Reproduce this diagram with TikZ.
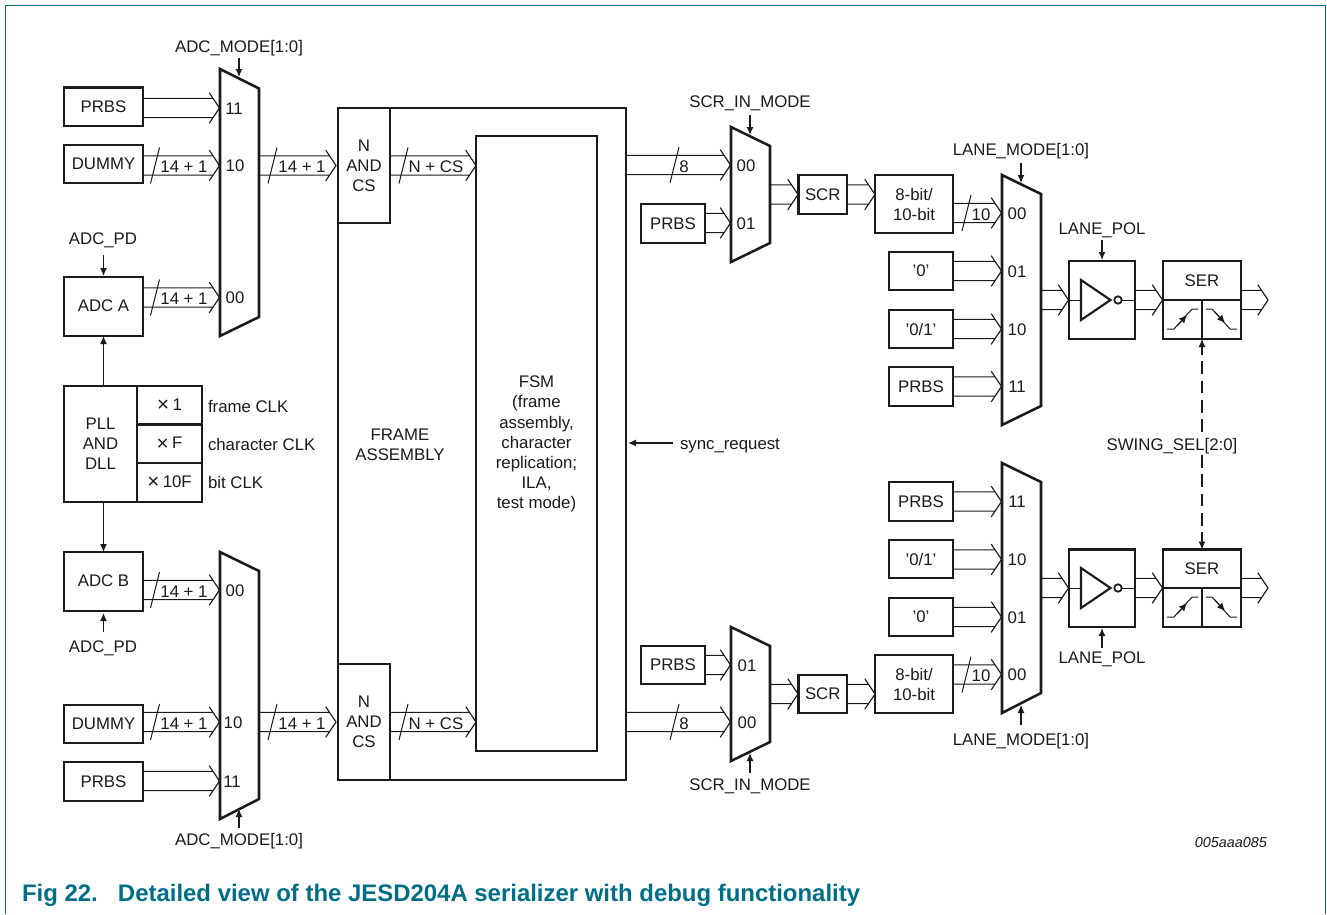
\documentclass[tikz,border=0pt]{standalone}
\usepackage{fontspec}
\setmainfont{Liberation Sans}
\usetikzlibrary{arrows.meta,calc}
\definecolor{teal1}{HTML}{006E87}
\definecolor{ink}{HTML}{1C1A1B}
\newcommand\tms{\raisebox{-.9pt}{\fontsize{15.5}{15}\selectfont ×}\hspace{2.6pt}}
\tikzset{
  boxline/.style={draw=ink,line width=1.9pt,line join=miter},
  blk/.style={boxline,inner sep=0pt,outer sep=0pt,align=center,text=ink,font=\fontsize{12.6}{15}\selectfont},
  lab/.style={inner sep=0pt,outer sep=0pt,text=ink,font=\fontsize{12.6}{15}\selectfont,text height=9pt,text depth=0pt},
  multi/.style={inner sep=0pt,outer sep=0pt,align=center,text=ink,font=\fontsize{12.6}{15.1}\selectfont},
  buswire/.style={draw=ink,line width=.85pt,line join=miter},
  thinline/.style={draw=ink,line width=.75pt},
  sig/.style={draw=ink,line width=.85pt,-{Latex[length=6pt,width=5.2pt]}},
  dashsig/.style={sig,dash pattern=on 9.5pt off 5pt},
  ghost/.style={inner sep=0pt,outer sep=0pt}
}
% box: name, x1, y1, x2, y2, text
\newcommand\blk[6]{\node[blk,minimum width={(#4-#2)*0.75pt},minimum height={(#5-#3)*0.75pt}] (#1) at ({(#2+#4)/2},{(#3+#5)/2}) {#6};}
% mux: name, xl, xr, ytl, ytr, ybr, ybl
\newcommand\muxbox[7]{%
  \node[ghost,minimum width={(#3-#2)*0.75pt},minimum height={(#7-#4)*0.75pt}] (#1) at ({(#2+#3)/2},{(#4+#7)/2}) {};
  \draw[boxline] (#2,#4) -- (#3,#5) -- (#3,#6) -- (#2,#7) -- cycle;}
% port: name, tip x, tip y, label x, label text
\newcommand\port[5]{\coordinate (#1) at (#2,#3); \node[lab] (#1l) at (#4,#3) {#5};}
% bus from a to b: x of a, y and x of b
\newcommand\busw[2]{\draw[buswire] let \p1=(#1),\p2=(#2) in
  (\x1,\y2+7.2pt) -- (\x2-4.7pt,\y2+7.2pt) (\x1,\y2-7.2pt) -- (\x2-4.7pt,\y2-7.2pt)
  (\x2-7.7pt,\y2+11.5pt) -- (\x2,\y2) -- (\x2-7.7pt,\y2-11.5pt);}
% slash and width label: name, slash x, y, label x, text
\newcommand\wlab[5]{\draw[thinline] (#2,#3+18) -- (#2+9,#3-18); \node[lab] (#1) at (#4,#3+1) {#5};}
% control: name, text, tx, ty, x1, y1, x2, y2
\newcommand\ctrl[8]{\node[lab] (#1) at (#3,#4) {#2}; \coordinate (#1s) at (#5,#6); \coordinate (#1e) at (#7,#8); \draw[sig] (#1s) -- (#1e);}
% inverter + serializer: suffix, y top, y mid, y bot
\newcommand\drvstage[4]{%
  \blk{inv#1}{1069}{#2}{1135}{#4}{}
  \blk{ser#1}{1163}{#2}{1241}{#3}{SER}
  \blk{rise#1}{1163}{#3}{1202}{#4}{}
  \blk{fall#1}{1202}{#3}{1241}{#4}{}
  \draw[thinline] (inv#1.west |- 0,#3) -- (1081,#3);
  \draw[thinline] (1122,#3) -- (inv#1.east |- 0,#3);
  \draw[draw=ink,line width=1.6pt,line join=miter] (1081,#3-20) -- (1110.5,#3) -- (1081,#3+20) -- cycle;
  \draw[draw=ink,line width=1.3pt] (1118,#3) circle[radius=2.8pt];
  \draw[thinline] (1167,#3+29) -- (1174,#3+29) -- (1192,#3+9) -- (1198,#3+9);
  \draw[thinline] (1206,#3+9) -- (1212,#3+9) -- (1230,#3+29) -- (1237,#3+29);
  \draw[thinline,-{Latex[length=6pt,width=5.4pt]}] (1177,#3+26) -- (1187,#3+15);
  \draw[thinline,-{Latex[length=6pt,width=5.4pt]}] (1215,#3+12) -- (1225,#3+23);
}
\begin{document}
\begin{tikzpicture}[x=0.75pt,y=-0.75pt]
\useasboundingbox (0,0) rectangle (1327,914);
\draw[draw=teal1,line width=1.1pt] (5.5,914) -- (5.5,5.5) -- (1325.5,5.5) -- (1325.5,914);

% ---------- left inputs, top
\blk{prbsA}{64}{87.5}{143}{126}{PRBS}
\blk{dummyA}{64}{145}{143}{183}{DUMMY}
\blk{adcA}{64}{277}{143}{336}{\raisebox{.75pt}{ADC A}}
\muxbox{mA}{220}{259}{69}{88.5}{317}{336}
\port{mAa}{219.5}{108}{234}{11}
\port{mAb}{219.5}{165.5}{235}{10}
\port{mAc}{219.5}{297.5}{235}{00}
\busw{prbsA.east}{mAa}
\busw{dummyA.east}{mAb}
\busw{adcA.east}{mAc}
\wlab{wA1}{150.5}{165.5}{184}{14 + 1}
\wlab{wA2}{150.5}{297.5}{184}{14 + 1}
\ctrl{ctlA}{ADC\_MODE[1:0]}{239}{46}{239}{58}{239}{77}
\ctrl{pdA}{ADC\_PD}{103}{238}{103.5}{255}{103.5}{276}

% ---------- PLL
\blk{pll}{64}{386}{137}{502}{\raisebox{-.75pt}{\parbox{50pt}{\centering PLL\\AND\\DLL}}}
\blk{cA}{137}{386}{202}{424.5}{\tms 1}
\blk{cB}{137}{424.5}{202}{463}{\tms F}
\blk{cC}{137}{463}{202}{502}{\tms 10F}
\node[lab,anchor=west] (frameclk) at (208,406) {frame CLK};
\node[lab,anchor=west] (charclk) at (208,444) {character CLK};
\node[lab,anchor=west] (bitclk) at (208,482) {bit CLK};

% ---------- left inputs, bottom
\blk{adcB}{64}{552}{143}{611}{\raisebox{.75pt}{ADC B}}
\blk{dummyB}{64}{705}{143}{743}{DUMMY}
\blk{prbsB}{64}{762}{143}{801}{PRBS}
\draw[sig] (adcA |- pll.north) -- (adcA.south);
\draw[sig] (adcB |- pll.south) -- (adcB.north);
\muxbox{mB}{220}{259}{552}{571}{799}{819}
\port{mBa}{219.5}{590}{235}{00}
\port{mBb}{219.5}{722}{233}{10}
\port{mBc}{219.5}{781}{232}{11}
\busw{adcB.east}{mBa}
\busw{dummyB.east}{mBb}
\busw{prbsB.east}{mBc}
\wlab{wB1}{150.5}{590}{184}{14 + 1}
\wlab{wB2}{150.5}{722}{184}{14 + 1}
\ctrl{ctlB}{ADC\_MODE[1:0]}{239}{839}{239}{828}{239}{809}
\ctrl{pdB}{ADC\_PD}{103}{646}{103.5}{632}{103.5}{613}

% ---------- frame assembly
\blk{fa}{338}{108}{626}{780}{}
\node[multi] (fatext) at (400,445) {FRAME\\ASSEMBLY};
\blk{nA}{338}{108}{390}{223}{N\\AND\\CS}
\blk{nB}{338}{664}{390}{780}{N\\AND\\CS}
\blk{fsm}{476}{136}{597}{751}{}
\node[multi] (fsmtext) at (536.5,444) {FSM\\(frame\\assembly,\\character\\replication;\\ILA,\\test mode)};
\coordinate (nAi) at (336,165.5);
\coordinate (nBi) at (336,722);
\coordinate (fsmA) at (476,165.5);
\coordinate (fsmB) at (476,722);
\coordinate (faA) at (626,165);
\coordinate (faB) at (626,722);
\busw{mAb-|mA.east}{nAi}
\busw{mBb-|mB.east}{nBi}
\busw{nA.east}{fsmA}
\busw{nB.east}{fsmB}
\wlab{wC1}{268}{165.5}{302}{14 + 1}
\wlab{wC2}{268}{722}{302}{14 + 1}
\wlab{wD1}{399}{165.5}{436}{N + CS}
\wlab{wD2}{399}{722}{436}{N + CS}
\node[lab,anchor=west] (syncl) at (680,443) {sync\_request};
\coordinate (syncs) at (673,443);
\coordinate (synce) at (628,443);
\draw[sig] (syncs) -- (synce);

% ---------- scrambler path, top
\muxbox{sA}{731}{770}{127}{146}{243}{262}
\port{sAa}{730.5}{165}{746}{00}
\port{sAb}{730.5}{223}{746}{01}
\blk{prbsC}{641}{204}{705}{243}{PRBS}
\busw{faA}{sAa}
\busw{prbsC.east}{sAb}
\wlab{wE1}{670}{165}{684}{8}
\ctrl{ctlC}{SCR\_IN\_MODE}{750}{101}{750}{115}{750}{135}
\blk{scrA}{798.5}{175}{847}{214}{SCR}
\blk{encA}{875}{175}{953}{233}{8-bit/\\10-bit}
\coordinate (encAi) at (875,194.5);
\coordinate (scrAi) at (798,194.5);
\busw{scrA.east}{encAi}
\busw{sA.east |- scrAi}{scrAi}

% ---------- scrambler path, bottom
\muxbox{sB}{731}{770}{627}{646}{742}{761}
\port{sBa}{730.5}{665}{747}{01}
\port{sBb}{730.5}{722}{747}{00}
\blk{prbsD}{641}{646}{705}{684}{PRBS}
\busw{prbsD.east}{sBa}
\busw{faB}{sBb}
\wlab{wE2}{670}{722}{684}{8}
\ctrl{ctlD}{SCR\_IN\_MODE}{750}{784}{750}{773}{750}{753}
\blk{scrB}{798.5}{675}{847}{713}{SCR}
\blk{encB}{875}{655}{953}{713}{8-bit/\\10-bit}
\coordinate (encBi) at (875,694);
\coordinate (scrBi) at (798,694);
\busw{scrB.east}{encBi}
\busw{sB.east |- scrBi}{scrBi}

% ---------- lane mux, top
\muxbox{lA}{1002}{1041}{175}{194}{406}{425}
\port{lAa}{1001.5}{213}{1017}{00}
\port{lAb}{1001.5}{271}{1017}{01}
\port{lAc}{1001.5}{329}{1017}{10}
\port{lAd}{1001.5}{386.5}{1017}{11}
\blk{zeroA}{889}{252}{953}{290}{'0'}
\blk{togA}{889}{310}{953}{348}{'0/1'}
\blk{prbsE}{889}{367}{953}{406}{PRBS}
\busw{encA.east}{lAa}
\busw{zeroA.east}{lAb}
\busw{togA.east}{lAc}
\busw{prbsE.east}{lAd}
\wlab{wF1}{962}{213}{981}{10}
\ctrl{ctlE}{LANE\_MODE[1:0]}{1021}{149}{1021}{163}{1021}{183}

% ---------- lane mux, bottom
\muxbox{lB}{1002}{1041}{463}{482}{693}{713}
\port{lBa}{1001.5}{501.5}{1017}{11}
\port{lBb}{1001.5}{559.5}{1017}{10}
\port{lBc}{1001.5}{617}{1017}{01}
\port{lBd}{1001.5}{674.5}{1017}{00}
\blk{prbsF}{889}{482}{953}{521}{PRBS}
\blk{togB}{889}{540}{953}{578}{'0/1'}
\blk{zeroB}{889}{598}{953}{636}{'0'}
\busw{prbsF.east}{lBa}
\busw{togB.east}{lBb}
\busw{zeroB.east}{lBc}
\busw{encB.east}{lBd}
\wlab{wF2}{962}{674.5}{981}{10}
\ctrl{ctlF}{LANE\_MODE[1:0]}{1021}{739}{1021}{725}{1021}{705}

% ---------- inverter and serializer stages
\drvstage{A}{261}{300}{339}
\drvstage{B}{549.5}{588}{627}
\coordinate (invAi) at (1068.5,300);
\coordinate (serAi) at (1162.5,300);
\coordinate (outA) at (1268,300);
\coordinate (invBi) at (1068.5,588);
\coordinate (serBi) at (1162.5,588);
\coordinate (outB) at (1268,588);
\busw{lA.east |- invAi}{invAi}
\busw{invA.east}{serAi}
\busw{serA.east |- outA}{outA}
\busw{lB.east |- invBi}{invBi}
\busw{invB.east}{serBi}
\busw{serB.east |- outB}{outB}
\ctrl{polA}{LANE\_POL}{1102}{228}{1102}{240}{1102}{260}
\ctrl{polB}{LANE\_POL}{1102}{657}{1102}{648}{1102}{628}
\node[lab] (swing) at (1172,444) {SWING\_SEL[2:0]};
\coordinate (swA) at (1202,432);
\coordinate (swB) at (1202,455);
\draw[dashsig] (swA) -- (riseA.south east);
\draw[dashsig] (swB) -- (serB.north -| swB);

% ---------- footer
\node[lab,anchor=east,font=\fontsize{10.8}{13}\selectfont\itshape] (docno) at (1267,841) {005aaa085};
\node[inner sep=0pt,outer sep=0pt,anchor=base west,text=teal1,font=\fontsize{17.95}{20}\selectfont\bfseries] (caption) at (22,901.5) {\makebox[72pt][l]{Fig 22.}Detailed view of the JESD204A serializer with debug functionality};
\end{tikzpicture}
\end{document}
